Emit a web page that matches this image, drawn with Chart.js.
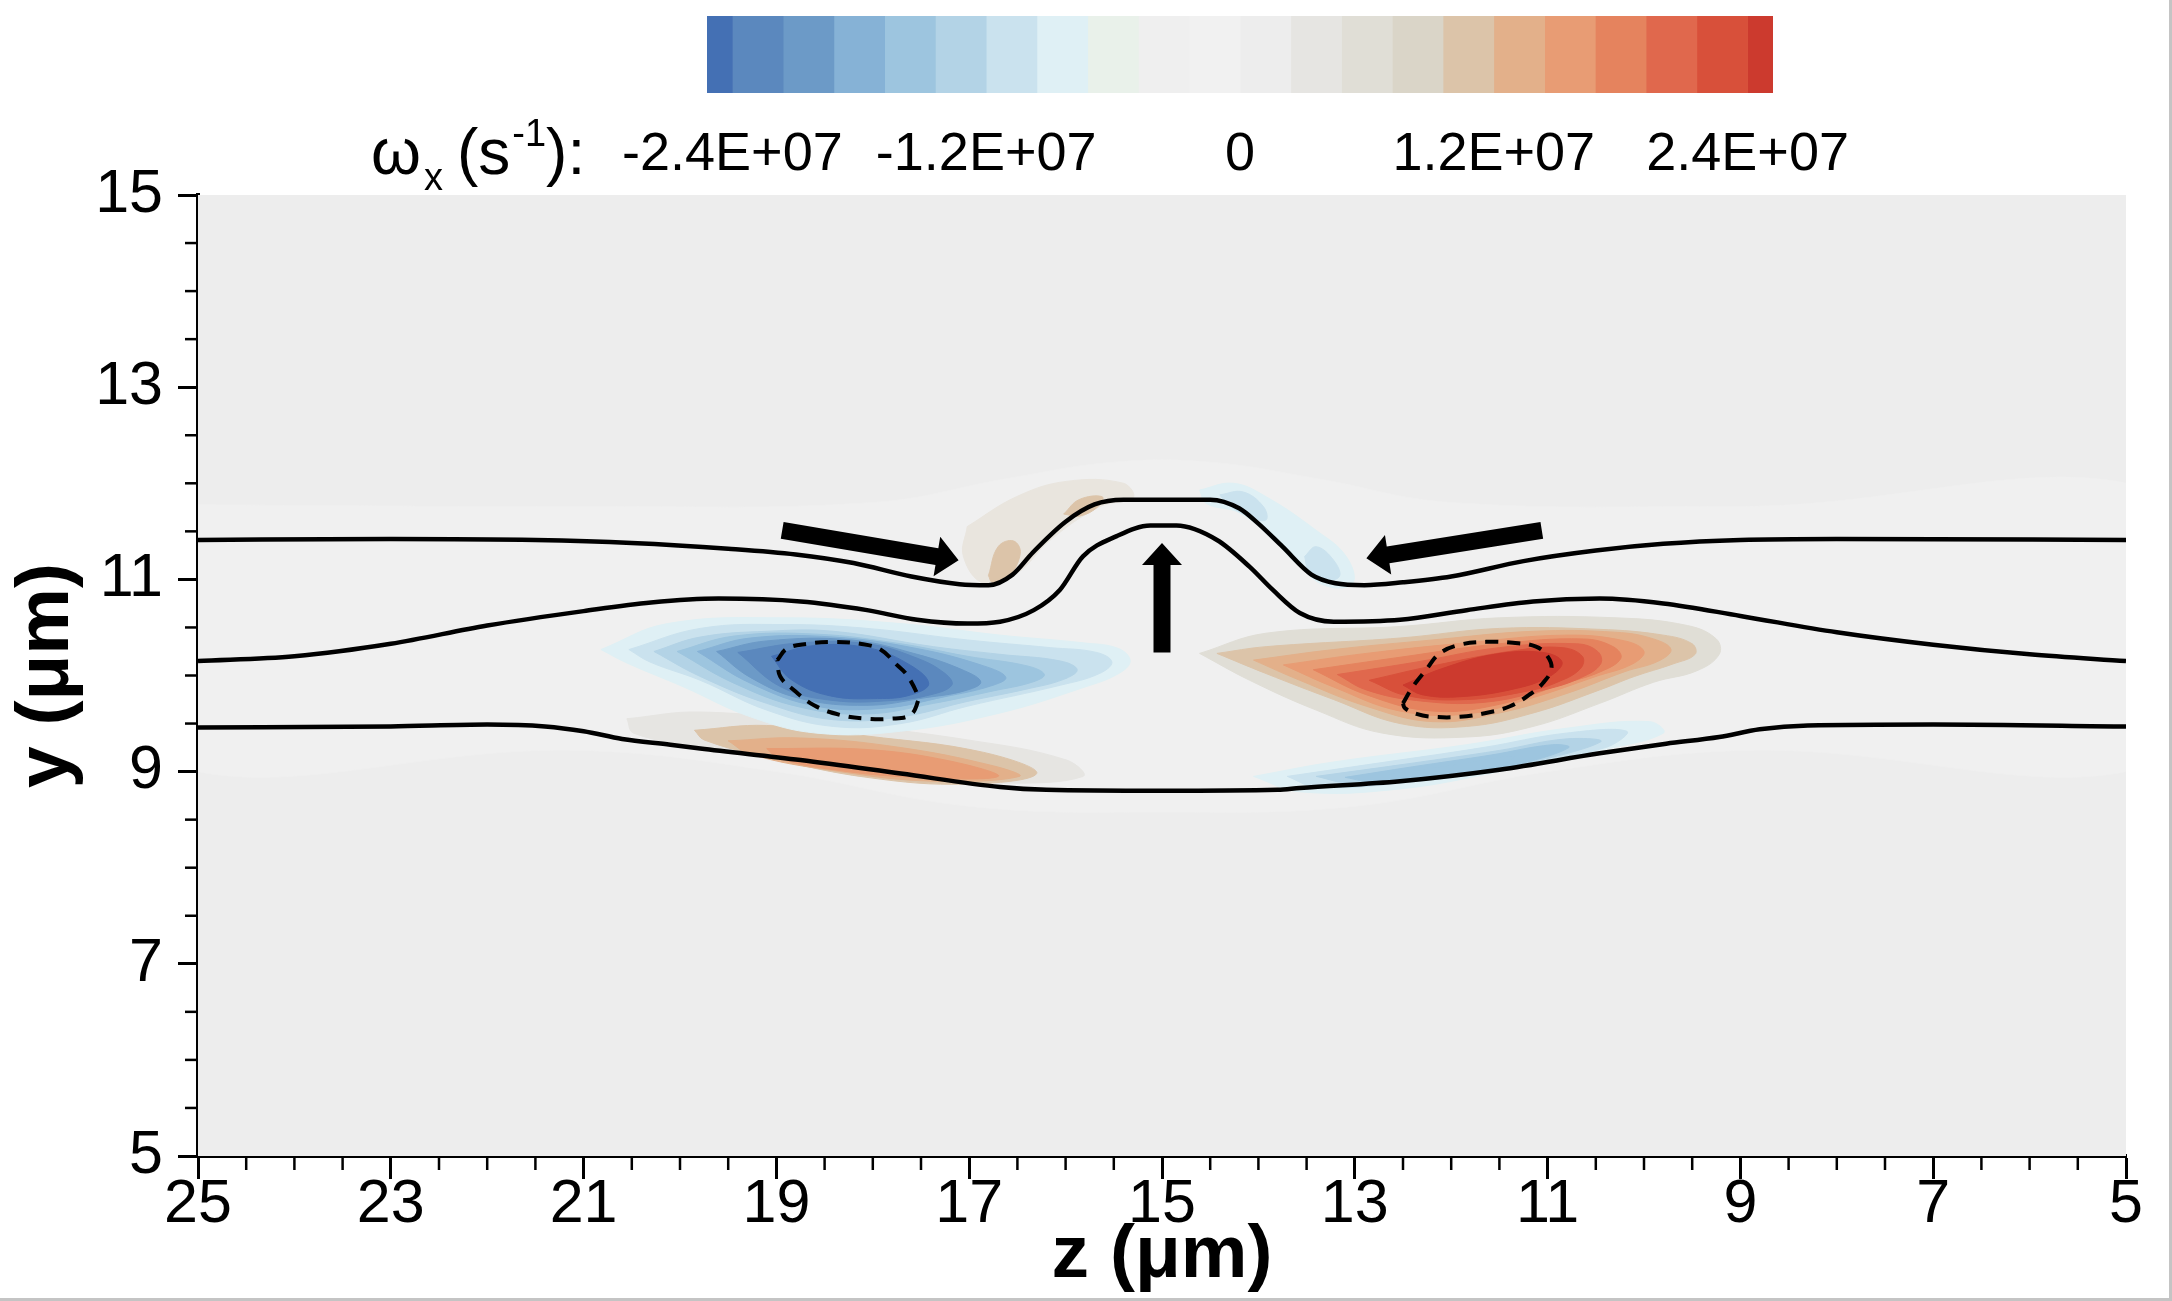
<!DOCTYPE html>
<html><head><meta charset="utf-8">
<script src="https://cdn.jsdelivr.net/npm/chart.js@4.4.1/dist/chart.umd.min.js"></script>
<style>
html,body{margin:0;padding:0;background:#fff;}
#wrap{position:relative;width:2172px;height:1301px;overflow:hidden;background:#fff;}
#main{position:absolute;left:0;top:0;}
#cbar{position:absolute;left:0;top:0;}
#cbLabel{position:absolute;left:371px;top:114px;font-family:'Liberation Sans',Arial,sans-serif;font-size:64px;line-height:1;color:#000;white-space:nowrap;}
#cbLabel sub{font-size:38px;vertical-align:-16px;margin-left:3px;margin-right:14px;}
#cbLabel sup{font-size:38px;vertical-align:28px;margin-left:2px;}
#frame{position:absolute;left:0;top:0;width:2172px;height:1301px;box-sizing:border-box;border-right:3px solid #c4c4c4;border-bottom:3px solid #c4c4c4;pointer-events:none;}
</style></head>
<body>
<div id="wrap">
<canvas id="main" width="2172" height="1301"></canvas>
<canvas id="cbar" width="2172" height="190"></canvas>
<div id="cbLabel">ω<sub>x</sub>(s<sup>-1</sup>):</div>
<div id="frame"></div>
</div>
<script>
// ---------- axes ----------
const zTickValues = [25, 23, 21, 19, 17, 15, 13, 11, 9, 7, 5];
const zTickLabels = ['25', '23', '21', '19', '17', '15', '13', '11', '9', '7', '5'];
const yTickValues = [5, 7, 9, 11, 13, 15];
const yTickLabels = ['5', '7', '9', '11', '13', '15'];

// ---------- colour legend (omega_x levels) ----------
const cbEdges = [-2.52e7, -2.40e7, -2.16e7, -1.92e7, -1.68e7, -1.44e7, -1.20e7, -0.96e7, -0.72e7, -0.48e7, -0.24e7, 0,
                 0.24e7, 0.48e7, 0.72e7, 0.96e7, 1.20e7, 1.44e7, 1.68e7, 1.92e7, 2.16e7, 2.40e7, 2.52e7];
const cbColors = ['#4470B4', '#5B88BE', '#6C9AC7', '#86B2D6', '#9DC5DF', '#B3D3E6', '#CAE2EE', '#DFF0F5',
                  '#E9F1EA', '#EFEFEF', '#F1F1F1', '#EDEDED', '#E6E5E2', '#E0DED6', '#DAD5C8', '#DCC4A9',
                  '#E3B08A', '#E89C74', '#E5835E', '#E0684D', '#D8503A', '#CC3A2E'];
const cbTickValues = [-2.4e7, -1.2e7, 0, 1.2e7, 2.4e7];
const cbTickLabels = ['-2.4E+07', '-1.2E+07', '0', '1.2E+07', '2.4E+07'];

// ---------- contour regions [z, y] (band = index into cbColors) ----------
const nearZeroBand = [[25.6,11.78],[21,11.76],[18,11.80],[16.6,12.05],[15.5,12.22],[14.5,12.22],[13.4,12.05],[12,11.80],[9,11.76],[4.4,11.78],
                      [4.4,9.22],[9,9.22],[11,9.0],[13,8.64],[15,8.58],[17,8.64],[19,9.0],[21,9.22],[25.6,9.22],[25.6,11.78]];

const blueL7 = [[20.82,10.27],[20.13,10.54],[18.92,10.60],[17.71,10.54],[16.68,10.42],[15.82,10.34],[15.45,10.28],[15.33,10.15],[15.45,10.02],[15.80,9.88],[16.68,9.61],[17.71,9.42],[18.58,9.40],[19.27,9.57],[19.96,9.88],[20.55,10.13],[20.82,10.27]];
const blueL6 = [[20.53,10.27],[19.79,10.49],[18.92,10.53],[18.06,10.49],[17.02,10.37],[16.16,10.29],[15.68,10.24],[15.52,10.14],[15.65,10.02],[16.05,9.90],[17.02,9.68],[17.71,9.50],[18.41,9.47],[19.10,9.64],[19.79,9.95],[20.31,10.14],[20.53,10.27]];
const blueL5 = [[20.27,10.25],[19.79,10.40],[19.10,10.46],[18.41,10.46],[17.37,10.30],[16.68,10.22],[16.05,10.15],[15.88,10.06],[16.02,9.96],[16.40,9.86],[17.02,9.73],[17.71,9.57],[18.41,9.54],[19.10,9.71],[19.79,9.99],[20.27,10.25]];
const blueL4 = [[20.03,10.25],[19.44,10.41],[18.58,10.43],[17.71,10.33],[17.02,10.20],[16.40,10.10],[16.22,10.01],[16.35,9.93],[16.75,9.84],[17.37,9.71],[18.06,9.60],[18.75,9.67],[19.44,9.92],[20.03,10.25]];
const blueL3 = [[19.82,10.25],[19.27,10.39],[18.41,10.40],[17.54,10.28],[16.85,10.10],[16.62,9.98],[16.78,9.89],[17.25,9.78],[17.89,9.66],[18.58,9.68],[19.27,9.92],[19.82,10.25]];
const blueL2 = [[19.62,10.25],[19.10,10.36],[18.23,10.37],[17.54,10.22],[17.05,10.05],[16.88,9.93],[17.05,9.84],[17.45,9.77],[18.06,9.69],[18.75,9.76],[19.27,9.98],[19.62,10.25]];
const blueL1 = [[19.40,10.24],[18.75,10.34],[18.06,10.33],[17.54,10.18],[17.25,10.02],[17.18,9.90],[17.40,9.80],[17.80,9.74],[18.41,9.74],[18.95,9.88],[19.40,10.24]];
const blueL0 = [[19.05,10.20],[18.62,10.31],[18.06,10.29],[17.65,10.13],[17.42,9.92],[17.60,9.80],[17.95,9.76],[18.45,9.79],[18.85,9.96],[19.05,10.20]];

const redR13 = [[14.61,10.23],[13.92,10.44],[12.53,10.51],[11.50,10.60],[10.29,10.60],[9.55,10.52],[9.25,10.38],[9.22,10.22],[9.45,10.05],[9.90,9.93],[10.46,9.71],[11.15,9.47],[11.84,9.36],[12.71,9.40],[13.40,9.64],[14.09,9.95],[14.61,10.23]];
const redR15 = [[14.43,10.23],[13.92,10.30],[12.53,10.39],[11.50,10.49],[10.46,10.48],[9.80,10.42],[9.50,10.33],[9.47,10.22],[9.70,10.12],[10.10,9.99],[10.46,9.85],[11.15,9.61],[11.84,9.47],[12.53,9.50],[13.22,9.75],[13.92,10.02],[14.43,10.23]];
const redR16 = [[14.05,10.16],[13.22,10.27],[12.19,10.37],[11.15,10.46],[10.29,10.45],[9.90,10.38],[9.72,10.27],[9.85,10.15],[10.20,10.04],[10.81,9.81],[11.50,9.61],[12.19,9.52],[12.88,9.68],[13.57,9.95],[14.05,10.16]];
const redR17 = [[13.74,10.11],[12.88,10.23],[11.84,10.34],[10.81,10.42],[10.20,10.36],[10.00,10.25],[10.12,10.12],[10.50,9.99],[11.15,9.77],[11.84,9.60],[12.53,9.63],[13.22,9.88],[13.74,10.11]];
const redR18 = [[13.43,10.06],[12.53,10.19],[11.50,10.33],[10.63,10.38],[10.32,10.30],[10.24,10.18],[10.45,10.04],[10.85,9.91],[11.50,9.70],[12.19,9.63],[12.88,9.80],[13.43,10.06]];
const redR19 = [[13.18,10.01],[12.36,10.14],[11.50,10.29],[10.70,10.33],[10.48,10.25],[10.45,10.12],[10.65,9.98],[11.00,9.86],[11.67,9.72],[12.36,9.74],[12.88,9.85],[13.18,10.01]];
const redR20 = [[12.85,9.95],[12.19,10.10],[11.33,10.26],[10.85,10.29],[10.64,10.20],[10.66,10.07],[10.90,9.93],[11.20,9.84],[11.84,9.75],[12.46,9.79],[12.85,9.95]];
const redR21 = [[12.50,9.90],[12.10,10.07],[11.55,10.22],[11.05,10.24],[10.85,10.14],[10.98,9.99],[11.35,9.86],[11.90,9.78],[12.30,9.80],[12.50,9.90]];

const orangeB12 = [[20.55,9.55],[19.79,9.62],[18.41,9.50],[17.02,9.33],[15.99,9.12],[15.82,8.95],[16.68,8.88],[17.71,8.95],[18.75,9.09],[19.79,9.26],[20.48,9.40],[20.55,9.55]];
const orangeB15 = [[19.85,9.43],[19.10,9.48],[18.06,9.37],[16.85,9.20],[16.30,8.98],[17.02,8.87],[18.06,8.94],[19.10,9.15],[19.75,9.33],[19.85,9.43]];
const orangeB16 = [[19.50,9.32],[18.75,9.35],[17.71,9.25],[16.75,9.06],[16.48,8.95],[17.37,8.90],[18.41,9.01],[19.27,9.18],[19.50,9.32]];
const orangeB17 = [[19.10,9.24],[18.06,9.23],[17.20,9.11],[16.70,8.95],[17.54,8.94],[18.41,9.02],[18.98,9.14],[19.10,9.24]];

const blueB7 = [[14.05,8.95],[13.22,9.10],[11.84,9.28],[10.81,9.45],[9.94,9.52],[9.80,9.40],[10.46,9.22],[11.50,9.00],[12.53,8.82],[13.57,8.79],[14.05,8.95]];
const blueB6 = [[13.70,8.95],[12.88,9.07],[11.67,9.25],[10.81,9.40],[10.18,9.42],[10.40,9.25],[11.50,9.03],[12.53,8.88],[13.40,8.84],[13.70,8.95]];
const blueB5 = [[13.40,8.95],[12.53,9.07],[11.50,9.22],[10.81,9.34],[10.45,9.31],[11.25,9.08],[12.19,8.92],[13.05,8.88],[13.40,8.95]];
const blueB4 = [[13.10,8.94],[12.40,9.05],[11.60,9.17],[10.95,9.28],[10.78,9.25],[11.25,9.09],[12.00,8.95],[12.80,8.89],[13.10,8.94]];
const blueB3 = [[12.65,8.97],[11.90,9.08],[11.35,9.16],[11.50,9.06],[12.20,8.94],[12.65,8.97]];

const bumpBeige12 = [[17.02,11.55],[16.51,11.86],[15.99,12.02],[15.40,12.00],[15.30,11.85],[15.64,11.76],[16.16,11.41],[16.51,11.06],[16.85,10.96],[17.06,11.24],[17.02,11.55]];
const bumpTan1 = [[16.80,11.04],[16.70,11.34],[16.54,11.40],[16.47,11.27],[16.60,11.02],[16.76,10.97],[16.80,11.04]];
const bumpTan2 = [[16.02,11.68],[15.86,11.83],[15.62,11.86],[15.66,11.76],[15.85,11.66],[16.02,11.68]];
const bumpCyan7 = [[14.61,11.93],[14.26,12.00],[13.92,11.86],[13.40,11.51],[13.09,11.24],[13.02,10.96],[13.29,10.93],[13.57,11.13],[13.85,11.41],[14.19,11.69],[14.54,11.79],[14.61,11.93]];
const bumpCyanA = [[14.40,11.88],[14.16,11.91],[13.95,11.76],[13.92,11.62],[14.09,11.65],[14.33,11.79],[14.40,11.88]];
const bumpCyanB = [[13.52,11.24],[13.40,11.34],[13.22,11.20],[13.16,11.03],[13.33,11.00],[13.48,11.10],[13.52,11.24]];

// ---------- solid contour lines [z, y] ----------
const topLine = [[25,11.41],[23,11.42],[21.5,11.41],[20.5,11.38],[19.5,11.32],[18.8,11.26],[18.2,11.17],[17.6,11.03],[17.1,10.95],[16.8,10.94],
                 [16.55,11.05],[16.34,11.28],[16.0,11.60],[15.7,11.78],[15.4,11.83],[14.5,11.83],[14.2,11.74],[14.0,11.58],[13.75,11.34],[13.45,11.05],
                 [13.2,10.96],[12.9,10.94],[12.5,10.97],[12.0,11.03],[11.25,11.19],[10.5,11.30],[9.8,11.37],[9.0,11.41],[8.0,11.42],[5,11.41]];
const midLine = [[25,10.15],[24,10.20],[23,10.33],[22,10.52],[21,10.67],[20.3,10.76],[19.6,10.80],[18.75,10.77],[18.06,10.68],[17.54,10.58],
                 [17.02,10.54],[16.68,10.56],[16.33,10.68],[16.06,10.89],[15.82,11.24],[15.47,11.45],[15.12,11.56],[14.85,11.56],[14.43,11.41],[14.09,11.13],
                 [13.85,10.89],[13.57,10.65],[13.22,10.56],[12.53,10.58],[11.84,10.68],[11.15,10.77],[10.46,10.80],[9.8,10.75],[9.0,10.62],[8.0,10.45],
                 [7.0,10.32],[6.0,10.22],[5,10.15]];
const botLine = [[25,9.46],[23,9.47],[22,9.49],[21.4,9.47],[21,9.42],[20.6,9.34],[20.1,9.28],[19.79,9.24],[18.75,9.12],[17.71,8.98],
                 [16.68,8.84],[16.2,8.81],[15,8.80],[13.8,8.81],[13.57,8.83],[12.53,8.90],[11.5,9.02],[10.46,9.19],[9.77,9.29],[9.22,9.36],
                 [8.8,9.44],[8.3,9.48],[7,9.49],[5,9.47]];

// ---------- dashed contour lines [z, y] ----------
const dashLeft = [[18.99,10.16],[18.89,10.28],[18.68,10.33],[18.41,10.35],[18.13,10.33],[17.92,10.27],[17.75,10.11],[17.65,10.01],[17.54,9.81],
                  [17.53,9.74],[17.61,9.59],[17.82,9.55],[18.06,9.55],[18.34,9.59],[18.61,9.69],[18.82,9.85],[18.96,9.99],[18.99,10.16]];
const dashRight = [[12.50,9.71],[12.40,9.88],[12.26,10.06],[12.12,10.23],[11.91,10.32],[11.64,10.35],[11.36,10.34],[11.12,10.30],[11.00,10.20],
                   [10.96,10.07],[11.05,9.92],[11.19,9.80],[11.39,9.68],[11.64,9.61],[11.91,9.57],[12.19,9.57],[12.36,9.60],[12.48,9.66],[12.50,9.71]];

// ---------- annotation arrows [z, y] ----------
const arrows = [
  {from: [18.94, 11.51], to: [17.11, 11.20]},
  {from: [11.06, 11.51], to: [12.88, 11.22]},
  {from: [15.00, 10.24], to: [15.00, 11.38]}
];

// ---------- build datasets ----------
const regions = [
  {pts: nearZeroBand, color: '#F0F0F0'},
  {pts: orangeB12, band: 12}, {pts: orangeB15, band: 15}, {pts: orangeB16, band: 16}, {pts: orangeB17, band: 17},
  {pts: blueB7, band: 7}, {pts: blueB6, band: 6}, {pts: blueB5, band: 5}, {pts: blueB4, band: 4}, {pts: blueB3, band: 4},
  {pts: bumpBeige12, color: '#E9E5DE'}, {pts: bumpTan1, band: 15}, {pts: bumpTan2, band: 15},
  {pts: bumpCyan7, band: 7}, {pts: bumpCyanA, band: 6}, {pts: bumpCyanB, band: 6},
  {pts: redR13, band: 13}, {pts: redR15, band: 15}, {pts: redR16, band: 16}, {pts: redR17, band: 17},
  {pts: redR18, band: 18}, {pts: redR19, band: 19}, {pts: redR20, band: 20}, {pts: redR21, band: 21},
  {pts: blueL7, band: 7}, {pts: blueL6, band: 6}, {pts: blueL5, band: 5}, {pts: blueL4, band: 4},
  {pts: blueL3, band: 3}, {pts: blueL2, band: 2}, {pts: blueL1, band: 1}, {pts: blueL0, band: 0}
];
const toXY = pts => pts.map(p => ({x: p[0], y: p[1]}));
const datasets = [];
regions.forEach(r => {
  const c = r.color || cbColors[r.band];
  datasets.push({data: toXY(r.pts), backgroundColor: c, borderColor: c, borderWidth: 1,
                 fill: 'shape', tension: 0.4, pointRadius: 0});
});
[topLine, midLine, botLine].forEach(l => {
  datasets.push({data: toXY(l), borderColor: '#000', borderWidth: 4.5, fill: false,
                 tension: 0.4, cubicInterpolationMode: 'monotone', pointRadius: 0});
});
[dashLeft, dashRight].forEach(l => {
  datasets.push({data: toXY(l), borderColor: '#000', borderWidth: 4, borderDash: [13, 9], fill: false,
                 tension: 0.4, pointRadius: 0});
});
// draw in push order: first pushed at the bottom
const N = datasets.length;
datasets.forEach((d, i) => { d.order = N - i; });

const FONT = "'Liberation Sans', Arial, Helvetica, sans-serif";

const bgPlugin = {
  id: 'plotBg',
  beforeDatasetsDraw(chart) {
    const {ctx, chartArea: a} = chart;
    ctx.save(); ctx.fillStyle = '#EDEDED';
    ctx.fillRect(a.left, a.top, a.right - a.left, a.bottom - a.top);
    ctx.restore();
  }
};
const minorTickPlugin = {
  id: 'minorTicks',
  afterDraw(chart) {
    const {ctx, scales: {x, y}} = chart;
    ctx.save(); ctx.strokeStyle = '#000'; ctx.lineWidth = 2.5;
    for (let v = x.min; v <= x.max + 1e-9; v += 0.5) {
      if (zTickValues.includes(v)) continue;
      const px = x.getPixelForValue(v);
      ctx.beginPath(); ctx.moveTo(px, x.top); ctx.lineTo(px, x.top + 14); ctx.stroke();
    }
    for (let v = y.min; v <= y.max + 1e-9; v += 0.5) {
      if (yTickValues.includes(v)) continue;
      const py = y.getPixelForValue(v);
      ctx.beginPath(); ctx.moveTo(y.right, py); ctx.lineTo(y.right - 13, py); ctx.stroke();
    }
    ctx.restore();
  }
};
const arrowPlugin = {
  id: 'arrows',
  afterDatasetsDraw(chart) {
    const {ctx, scales: {x, y}} = chart;
    ctx.save(); ctx.fillStyle = '#000';
    arrows.forEach(a => {
      const x0 = x.getPixelForValue(a.from[0]), y0 = y.getPixelForValue(a.from[1]);
      const x1 = x.getPixelForValue(a.to[0]), y1 = y.getPixelForValue(a.to[1]);
      const len = Math.hypot(x1 - x0, y1 - y0), ang = Math.atan2(y1 - y0, x1 - x0);
      const sw = 17, hw = 40, hl = 22;
      ctx.save(); ctx.translate(x0, y0); ctx.rotate(ang);
      ctx.beginPath();
      ctx.moveTo(0, -sw / 2); ctx.lineTo(len - hl, -sw / 2); ctx.lineTo(len - hl, -hw / 2);
      ctx.lineTo(len, 0); ctx.lineTo(len - hl, hw / 2); ctx.lineTo(len - hl, sw / 2); ctx.lineTo(0, sw / 2);
      ctx.closePath(); ctx.fill();
      ctx.restore();
    });
    ctx.restore();
  }
};

new Chart(document.getElementById('main'), {
  type: 'line',
  data: {datasets},
  options: {
    responsive: false, animation: false, devicePixelRatio: 1, events: [],
    layout: {padding: {top: 195, right: 46, left: 0, bottom: 0}},
    plugins: {legend: {display: false}, tooltip: {enabled: false}},
    scales: {
      x: {
        type: 'linear', min: 5, max: 25, reverse: true, position: 'bottom', z: 1,
        afterFit: s => { s.height = 145; },
        afterBuildTicks: s => { s.ticks = zTickValues.map(v => ({value: v})); },
        ticks: {callback: v => zTickLabels[zTickValues.indexOf(v)], font: {family: FONT, size: 61}, color: '#000',
                padding: -10, maxRotation: 0, autoSkip: false},
        grid: {display: true, drawOnChartArea: false, drawTicks: true, tickLength: 23, tickWidth: 3, tickColor: '#000'},
        border: {display: true, color: '#000', width: 4},
        title: {display: true, text: 'z (μm)', font: {family: FONT, size: 75, weight: 'bold'}, color: '#000',
                padding: {top: 0, bottom: 0}}
      },
      y: {
        type: 'linear', min: 5, max: 15, position: 'left', z: 1,
        afterFit: s => { s.width = 198; },
        afterBuildTicks: s => { s.ticks = yTickValues.map(v => ({value: v})); },
        ticks: {callback: v => yTickLabels[yTickValues.indexOf(v)], font: {family: FONT, size: 61}, color: '#000',
                padding: 15, autoSkip: false},
        grid: {display: true, drawOnChartArea: false, drawTicks: true, tickLength: 20, tickWidth: 3, tickColor: '#000'},
        border: {display: true, color: '#000', width: 4},
        title: {display: true, text: 'y (μm)', font: {family: FONT, size: 75, weight: 'bold'}, color: '#000',
                padding: {top: 2, bottom: 0}}
      }
    }
  },
  plugins: [bgPlugin, minorTickPlugin, arrowPlugin]
});

// ---------- colour bar ----------
const CBFONT = "'Liberation Sans Narrow', 'Liberation Sans', Arial, sans-serif";
const cbDatasets = cbColors.map((c, i) => ({
  data: [[cbEdges[i], cbEdges[i + 1]]], backgroundColor: c, borderWidth: 0,
  grouped: false, barPercentage: 1, categoryPercentage: 1
}));
new Chart(document.getElementById('cbar'), {
  type: 'bar',
  data: {labels: ['ωx'], datasets: cbDatasets},
  options: {
    indexAxis: 'y', responsive: false, animation: false, devicePixelRatio: 1, events: [],
    layout: {padding: {left: 707, right: 2172 - 1773, top: 16, bottom: 0}},
    plugins: {legend: {display: false}, tooltip: {enabled: false}},
    scales: {
      x: {type: 'linear', min: cbEdges[0], max: cbEdges[cbEdges.length - 1],
          afterFit: s => { s.height = 190 - 93; },
          afterBuildTicks: s => { s.ticks = cbTickValues.map(v => ({value: v})); },
          ticks: {callback: v => cbTickLabels[cbTickValues.indexOf(v)], font: {family: CBFONT, size: 54}, color: '#000',
                  padding: 30, autoSkip: false, maxRotation: 0},
          grid: {display: false, drawTicks: false}, border: {display: false}},
      y: {display: false}
    }
  }
});
</script>
</body></html>
